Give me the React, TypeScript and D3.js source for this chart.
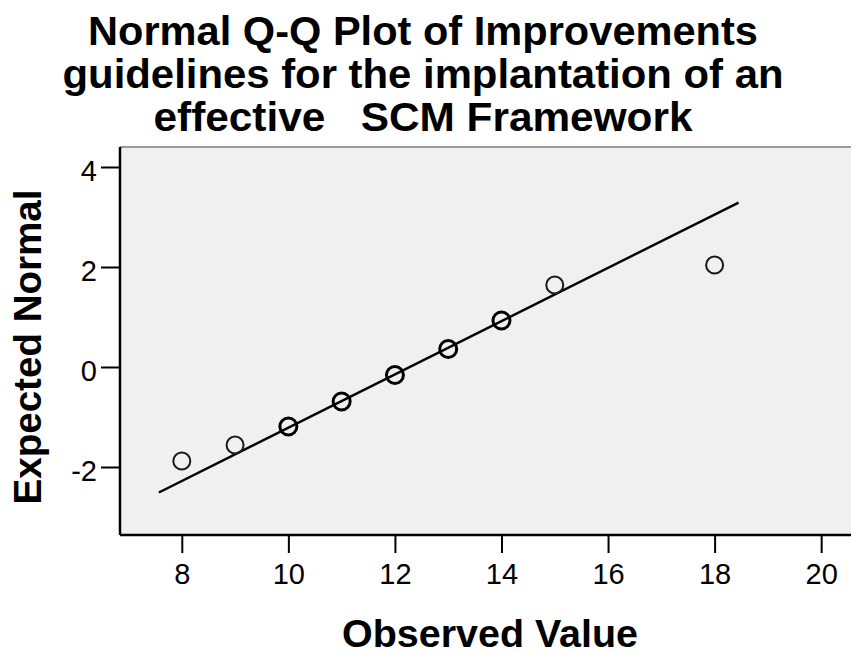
import React, { useEffect, useRef } from 'react';
import * as d3 from 'd3';

// Observed scores and their expected normal values
const observed = [8, 9, 10, 11, 12, 13, 14, 15, 18];
const expectedNormal = [-1.88, -1.56, -1.19, -0.69, -0.16, 0.36, 0.93, 1.64, 2.04];
// how many cases sit on each point (tied ranks draw darker)
const caseCounts = [1, 1, 3, 3, 3, 3, 3, 1, 1];

// reference line: mean and sd of the sample, drawn over this x range
const sampleMean = 12.28;
const sampleSd = 1.876;
const lineRange = [7.57, 18.45];

const xTicks = [8, 10, 12, 14, 16, 18, 20];
const yTicks = [-2, 0, 2, 4];

const titleLines = [
    'Normal Q-Q Plot of Improvements',
    'guidelines for the implantation of an',
    'effective   SCM Framework',
];
const titleWidths = [670, 721, 539];

const FONT = '"Liberation Sans", Arial, sans-serif';

const App: React.FC = () => {
    const ref = useRef<SVGSVGElement | null>(null);

    useEffect(() => {
        if (!ref.current) return;
        const W = 851, H = 655;
        const plot = { left: 120, top: 147, right: 851, bottom: 535 };

        const svg = d3.select(ref.current);
        svg.selectAll('*').remove();
        svg.attr('width', W).attr('height', H);

        const x = d3.scaleLinear().domain([6.84, 20.56]).range([plot.left, plot.right]);
        const y = d3.scaleLinear().domain([-3.36, 4.4]).range([plot.bottom, plot.top]);

        // title
        titleLines.forEach((t, i) => {
            svg.append('text')
                .attr('x', 423)
                .attr('y', 45 + i * 43)
                .attr('text-anchor', 'middle')
                .attr('font-family', FONT)
                .attr('font-weight', 'bold')
                .attr('font-size', 41)
                .attr('textLength', titleWidths[i])
                .attr('lengthAdjust', 'spacingAndGlyphs')
                .style('white-space', 'pre')
                .text(t);
        });

        // plot background
        svg.append('rect')
            .attr('x', plot.left)
            .attr('y', plot.top)
            .attr('width', plot.right - plot.left)
            .attr('height', plot.bottom - plot.top)
            .attr('fill', '#f0f0f0');
        svg.append('line')
            .attr('x1', plot.left).attr('x2', plot.right)
            .attr('y1', plot.top).attr('y2', plot.top)
            .attr('stroke', '#9a9a9a').attr('stroke-width', 2);

        // reference line
        const line = d3.line<number>()
            .x(d => x(d))
            .y(d => y((d - sampleMean) / sampleSd));
        svg.append('path')
            .datum(lineRange)
            .attr('d', line)
            .attr('fill', 'none')
            .attr('stroke', '#000')
            .attr('stroke-width', 2.4);

        // points
        const pts = observed.map((v, i) => ({ v, e: expectedNormal[i], n: caseCounts[i] }));
        svg.selectAll('.dot')
            .data(pts)
            .enter()
            .append('circle')
            .attr('class', 'dot')
            .attr('cx', d => x(d.v))
            .attr('cy', d => y(d.e))
            .attr('r', 8.5)
            .attr('fill', 'none')
            .attr('stroke', d => (d.n > 1 ? '#000' : '#1a1a1a'))
            .attr('stroke-width', d => (d.n > 1 ? 3 : 2));

        // axes
        const fmt = (d: d3.NumberValue) => String(d);
        const xAxis = svg.append('g')
            .attr('transform', `translate(0,${plot.bottom})`)
            .call(d3.axisBottom(x).tickValues(xTicks).tickFormat(fmt).tickSize(18).tickPadding(10).tickSizeOuter(0));
        const yAxis = svg.append('g')
            .attr('transform', `translate(${plot.left},0)`)
            .call(d3.axisLeft(y).tickValues(yTicks).tickFormat(fmt).tickSize(19).tickPadding(4).tickSizeOuter(0));

        [xAxis, yAxis].forEach(g => {
            g.select('.domain').attr('stroke', '#000').attr('stroke-width', 2.5);
            g.selectAll('.tick line').attr('stroke', '#000').attr('stroke-width', 2);
            g.selectAll('.tick text')
                .attr('font-family', FONT)
                .attr('font-size', 29)
                .attr('fill', '#000');
        });
        yAxis.selectAll('.tick text').attr('dy', '0.48em');
        xAxis.select('.domain').attr('d', `M${plot.left},0H${plot.right}`);
        yAxis.select('.domain').attr('d', `M0,${plot.top}V${plot.bottom}`);

        // axis titles
        svg.append('text')
            .attr('x', 490)
            .attr('y', 647)
            .attr('text-anchor', 'middle')
            .attr('font-family', FONT)
            .attr('font-weight', 'bold')
            .attr('font-size', 39)
            .attr('textLength', 296)
            .attr('lengthAdjust', 'spacingAndGlyphs')
            .text('Observed Value');

        svg.append('text')
            .attr('transform', `translate(41,347) rotate(-90)`)
            .attr('text-anchor', 'middle')
            .attr('font-family', FONT)
            .attr('font-weight', 'bold')
            .attr('font-size', 39)
            .attr('textLength', 315)
            .attr('lengthAdjust', 'spacingAndGlyphs')
            .text('Expected Normal');
    }, []);

    return (
        <svg
            ref={ref}
            style={{ position: 'absolute', left: 0, top: 0, display: 'block', background: '#fff' }}
        />
    );
};

export default App;
